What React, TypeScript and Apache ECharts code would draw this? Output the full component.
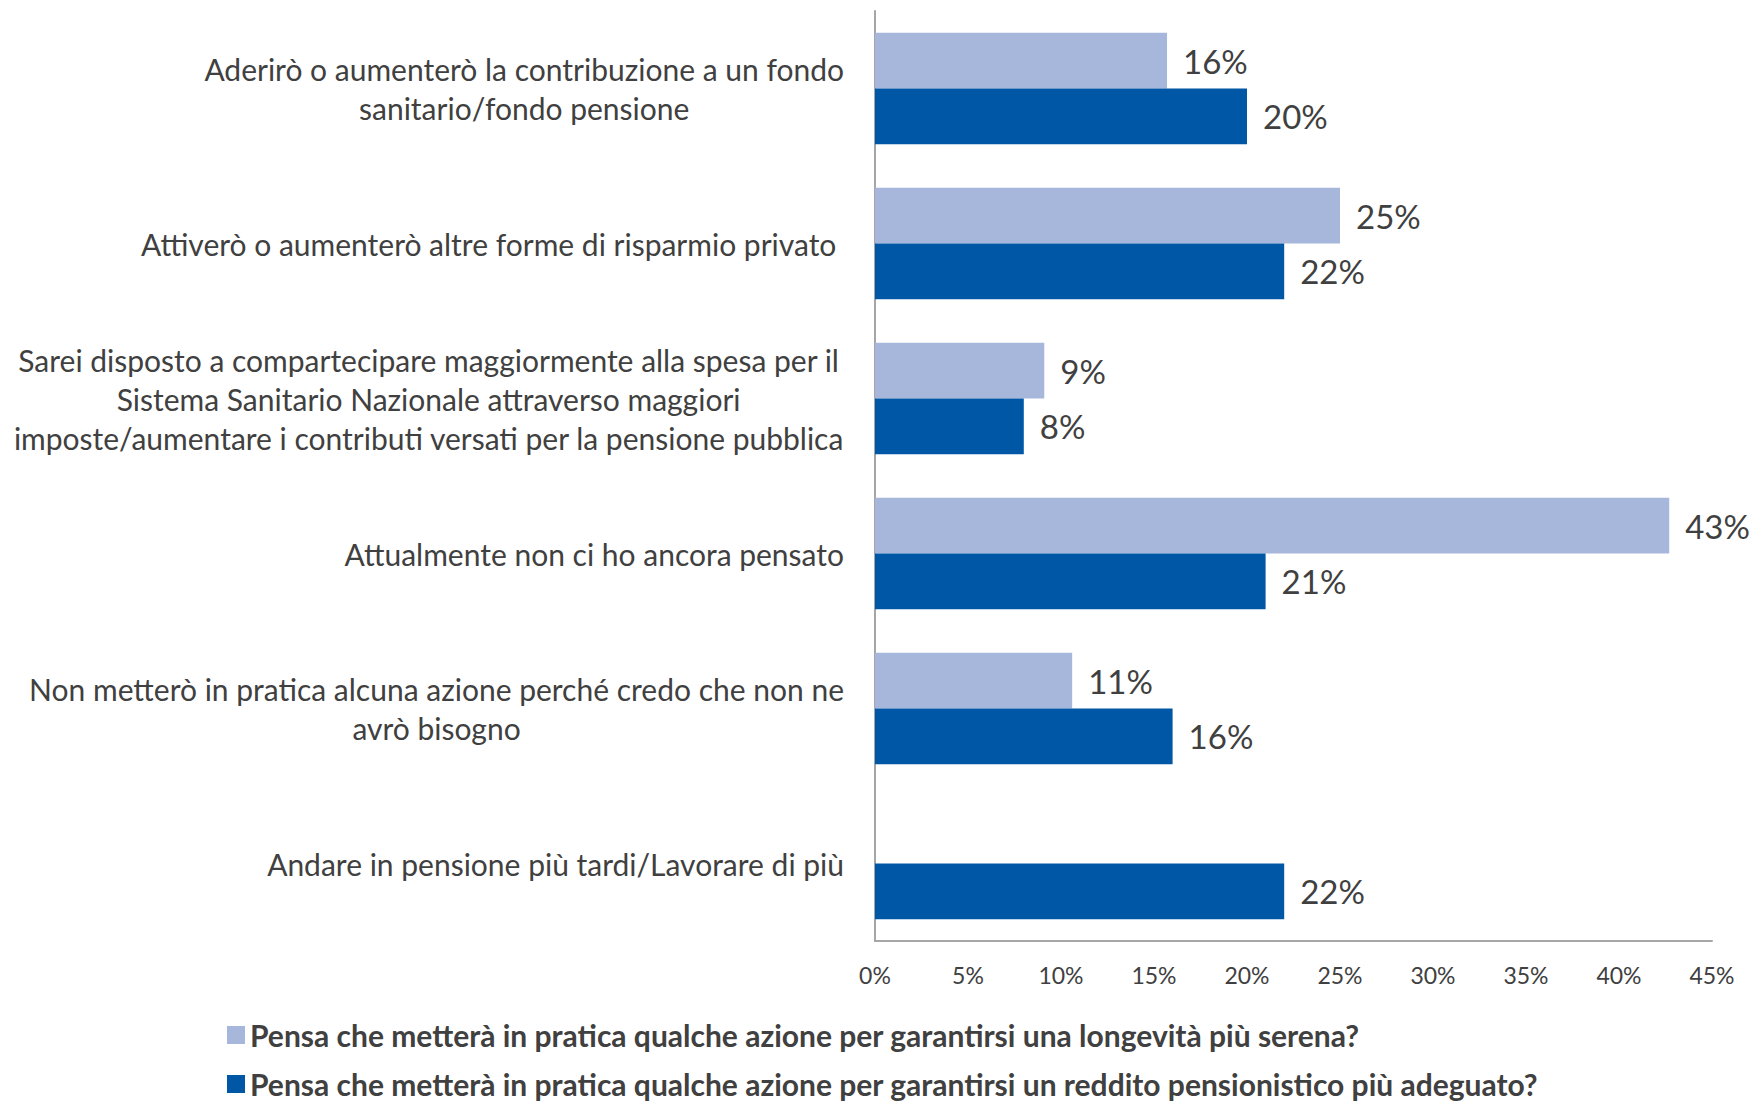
import React, { useEffect, useRef } from "react";
import * as echarts from "echarts";

const categories = [
  "Aderirò o aumenterò la contribuzione a un fondo\nsanitario/fondo pensione",
  "Attiverò o aumenterò altre forme di risparmio privato ",
  "Sarei disposto a compartecipare maggiormente alla spesa per il\nSistema Sanitario Nazionale attraverso maggiori\nimposte/aumentare i contributi versati per la pensione pubblica",
  "Attualmente non ci ho ancora pensato",
  "Non metterò in pratica alcuna azione perché credo che non ne\navrò bisogno",
  "Andare in pensione più tardi/Lavorare di più",
];

const longevitaValues: (number | null)[] = [15.7, 25, 9.1, 42.7, 10.6, null];
const redditoValues: number[] = [20, 22, 8, 21, 16, 22];

const seriesNames = [
  "Pensa che metterà in pratica qualche azione per garantirsi una longevità più serena?",
  "Pensa che metterà in pratica qualche azione per garantirsi un reddito pensionistico più adeguato?",
];

const xTicks = { min: 0, max: 45, interval: 5 };

const FONT = "Lato";
const TEXT = "#404040";

export default function App() {
  const ref = useRef<HTMLDivElement>(null);
  useEffect(() => {
    if (!ref.current) return;
    const chart = echarts.init(ref.current, null, { renderer: "svg" });
    const valueLabel = {
      show: true,
      position: "right",
      distance: 16,
      fontFamily: FONT,
      fontSize: 33,
      color: TEXT,
      formatter: (p: any) =>
        p.value == null || p.value === "-" ? "" : Math.round(p.value) + "%",
    };
    const legendBase = {
      orient: "vertical",
      left: 222,
      itemWidth: 18,
      itemHeight: 18,
      icon: "rect",
      textStyle: {
        fontFamily: FONT,
        fontSize: 30,
        fontWeight: "bold",
        color: TEXT,
        lineHeight: 30,
      },
    };
    chart.setOption({
      animation: false,
      backgroundColor: "#ffffff",
      textStyle: { fontFamily: FONT },
      grid: { left: 875, right: 40, top: 11, bottom: 163, containLabel: false },
      legend: [
        { ...legendBase, top: 1015, data: [seriesNames[0]] },
        { ...legendBase, top: 1064, data: [seriesNames[1]] },
      ],
      xAxis: {
        type: "value",
        min: xTicks.min,
        max: xTicks.max,
        interval: xTicks.interval,
        axisLine: { show: true, lineStyle: { color: "#a6a6a6", width: 2 } },
        axisTick: { show: false },
        splitLine: { show: false },
        axisLabel: {
          formatter: "{value}%",
          fontFamily: FONT,
          fontSize: 23,
          color: TEXT,
          margin: 22,
        },
      },
      yAxis: {
        type: "category",
        inverse: true,
        data: categories,
        axisLine: { show: true, lineStyle: { color: "#a6a6a6", width: 2 } },
        axisTick: { show: false },
        axisLabel: {
          margin: 31,
          align: "right",
          formatter: (v: string) =>
            v
              .split("\n")
              .map((l) => "{c|" + l + "}")
              .join("\n"),
          rich: {
            c: {
              align: "center",
              fontFamily: FONT,
              fontSize: 30,
              lineHeight: 39,
              color: TEXT,
            },
          },
        },
      },
      series: [
        {
          name: seriesNames[0],
          type: "bar",
          data: longevitaValues,
          barGap: "0%",
          barCategoryGap: "28%",
          itemStyle: { color: "#A7B7DB" },
          label: valueLabel,
        },
        {
          name: seriesNames[1],
          type: "bar",
          data: redditoValues,
          barGap: "0%",
          barCategoryGap: "28%",
          itemStyle: { color: "#0057A6" },
          label: valueLabel,
        },
      ],
    });
    return () => chart.dispose();
  }, []);
  return (
    <div
      ref={ref}
      style={{ position: "fixed", left: 0, top: 0, width: 1752, height: 1104 }}
    />
  );
}
